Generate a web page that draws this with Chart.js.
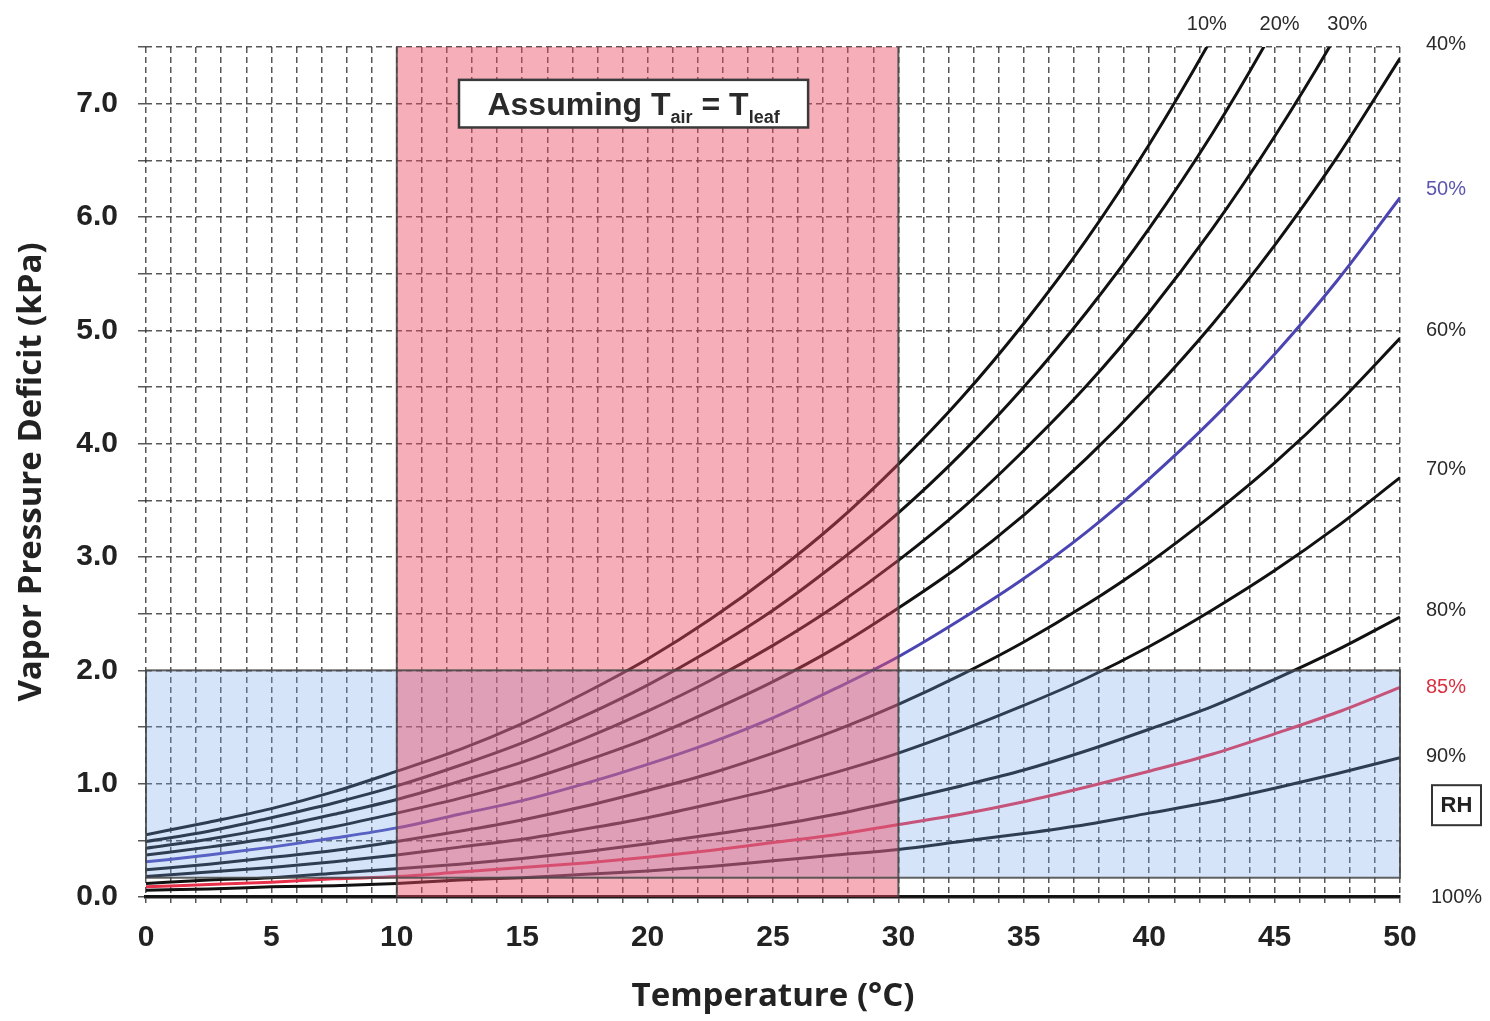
<!DOCTYPE html>
<html><head><meta charset="utf-8">
<script src="https://cdn.jsdelivr.net/npm/chart.js@4.4.1/dist/chart.umd.min.js"></script>
<style>html,body{margin:0;padding:0;background:#fff;}canvas{display:block;}</style>
</head><body>
<canvas id="c" width="1490" height="1021"></canvas>
<script>
// ---- data ----
const temps = [0,2.5,5,7.5,10,12.5,15,17.5,20,22.5,25,27.5,30,32.5,35,37.5,40,42.5,45,47.5,50];
const rh10 = [0.55,0.66,0.78,0.93,1.11,1.30,1.53,1.80,2.10,2.45,2.85,3.30,3.82,4.40,5.06,5.80,6.64,7.58,8.62,9.80,11.10];
const rh20 = [0.49,0.58,0.70,0.83,0.98,1.16,1.36,1.60,1.87,2.18,2.53,2.94,3.39,3.91,4.50,5.16,5.90,6.73,7.67,8.71,9.87];
const rh30 = [0.43,0.51,0.61,0.73,0.86,1.02,1.19,1.40,1.64,1.91,2.22,2.57,2.97,3.42,3.94,4.51,5.16,5.89,6.71,7.62,8.64];
const rh40 = [0.37,0.44,0.52,0.62,0.74,0.87,1.02,1.20,1.40,1.64,1.90,2.20,2.55,2.93,3.37,3.87,4.43,5.05,5.75,6.53,7.40];
const rh50 = [0.31,0.37,0.44,0.52,0.61,0.73,0.85,1.00,1.17,1.36,1.58,1.84,2.12,2.45,2.81,3.22,3.69,4.21,4.79,5.44,6.17];
const rh60 = [0.24,0.29,0.35,0.41,0.49,0.58,0.68,0.80,0.94,1.09,1.27,1.47,1.70,1.96,2.25,2.58,2.95,3.37,3.83,4.35,4.93];
const rh70 = [0.18,0.22,0.26,0.31,0.37,0.44,0.51,0.60,0.70,0.82,0.95,1.10,1.27,1.47,1.69,1.93,2.21,2.53,2.88,3.27,3.70];
const rh80 = [0.12,0.15,0.17,0.21,0.25,0.29,0.34,0.40,0.47,0.55,0.63,0.73,0.85,0.98,1.12,1.29,1.48,1.68,1.92,2.18,2.47];
const rh85 = [0.09,0.11,0.13,0.16,0.18,0.22,0.26,0.30,0.35,0.41,0.48,0.55,0.64,0.73,0.84,0.97,1.11,1.26,1.44,1.63,1.85];
const rh90 = [0.06,0.07,0.09,0.10,0.12,0.15,0.17,0.20,0.23,0.27,0.32,0.37,0.42,0.49,0.56,0.64,0.74,0.84,0.96,1.09,1.23];
const rh100 = [0,0,0,0,0,0,0,0,0,0,0,0,0,0,0,0,0,0,0,0,0];

const seriesNames = ['10%','20%','30%','40%','50%','60%','70%','80%','85%','90%','100%'];
const seriesValues = [rh10,rh20,rh30,rh40,rh50,rh60,rh70,rh80,rh85,rh90,rh100];

const xTickLabels = ['0','5','10','15','20','25','30','35','40','45','50'];
const yTickLabels = ['0.0','1.0','2.0','3.0','4.0','5.0','6.0','7.0'];

// curve labels
const topLabelNames = ['10%','20%','30%'];
const topLabelX = [42.3,45.2,47.9];
const sideLabelNames = ['40%','50%','60%','70%','80%','85%','90%','100%'];
const sideLabelY = [7.52,6.24,5.0,3.77,2.53,1.85,1.24,0];
const rhBoxY = 0.81;

// shaded zones
const tempZone = [10,30];
const vpdZone = [0.17,2.0];
const noteBox = {x0:12.48,x1:26.4,y0:6.79,y1:7.21};

const seriesColor = n => n==='50%' ? '#4a45b2' : (n==='85%' ? '#e8304a' : '#111');
const labelColor = n => n==='50%' ? '#5a55b0' : (n==='85%' ? '#d8303f' : '#2a2a2a');

const datasets = seriesNames.map((n,i)=>({
  label:n,
  data: temps.map((t,j)=>({x:t,y:seriesValues[i][j]})),
  borderColor: seriesColor(n),
  borderWidth: 3,
  pointRadius:0,
  fill:false,
  cubicInterpolationMode:'monotone'
}));

const overlay = {
  id:'overlay',
  afterDatasetsDraw(chart){
    const {ctx, scales:{x,y}} = chart;
    ctx.save();
    const bx0=x.getPixelForValue(0), bx1=x.getPixelForValue(50);
    const by0=y.getPixelForValue(vpdZone[1]), by1=y.getPixelForValue(vpdZone[0]);
    ctx.fillStyle='rgba(120,165,235,0.3)';
    ctx.fillRect(bx0,by0,bx1-bx0,by1-by0);
    const px0=x.getPixelForValue(tempZone[0]), px1=x.getPixelForValue(tempZone[1]);
    const py0=y.getPixelForValue(7.5), py1=y.getPixelForValue(0);
    ctx.fillStyle='rgba(235,75,100,0.45)';
    ctx.fillRect(px0,py0,px1-px0,py1-py0);
    ctx.strokeStyle='rgba(70,70,70,0.85)';
    ctx.lineWidth=2;
    ctx.strokeRect(bx0,by0,bx1-bx0,by1-by0);
    ctx.beginPath();
    ctx.moveTo(px0,py0);ctx.lineTo(px0,py1);
    ctx.moveTo(px1,py0);ctx.lineTo(px1,py1);
    ctx.stroke();
    // note box
    const nx0=x.getPixelForValue(noteBox.x0), nx1=x.getPixelForValue(noteBox.x1);
    const ny0=y.getPixelForValue(noteBox.y1), ny1=y.getPixelForValue(noteBox.y0);
    ctx.fillStyle='#fff';
    ctx.fillRect(nx0,ny0,nx1-nx0,ny1-ny0);
    ctx.strokeStyle='#3a3a3a';ctx.lineWidth=2.5;
    ctx.strokeRect(nx0,ny0,nx1-nx0,ny1-ny0);
    const parts=[['Assuming T',32,0],['air',18,8],[' = T',32,0],['leaf',18,8]];
    let total=0;
    parts.forEach(p=>{ctx.font='bold '+p[1]+'px "Liberation Sans", Arial';p.w=ctx.measureText(p[0]).width;total+=p.w;});
    let cx=(nx0+nx1)/2-total/2; const base=(ny0+ny1)/2+11;
    ctx.fillStyle='#2a2a2a';ctx.textBaseline='alphabetic';ctx.textAlign='left';
    parts.forEach(p=>{ctx.font='bold '+p[1]+'px "Liberation Sans", Arial';ctx.fillText(p[0],cx,base+p[2]);cx+=p.w;});
    ctx.restore();
  },
  afterDraw(chart){
    const {ctx, scales:{x,y}, chartArea} = chart;
    ctx.save();
    ctx.font='20px "Liberation Sans", Arial';
    ctx.textBaseline='middle';
    ctx.textAlign='center';
    topLabelNames.forEach((n,i)=>{ctx.fillStyle=labelColor(n);ctx.fillText(n,x.getPixelForValue(topLabelX[i]),chartArea.top-23);});
    ctx.textAlign='left';
    const lx=chartArea.right+26;
    sideLabelNames.forEach((n,i)=>{ctx.fillStyle=labelColor(n);ctx.fillText(n,lx+(n==='100%'?5:0),y.getPixelForValue(sideLabelY[i]));});
    const ry=y.getPixelForValue(rhBoxY);
    ctx.strokeStyle='#333';ctx.lineWidth=2;
    ctx.strokeRect(lx+6,ry-20,49,40);
    ctx.font='bold 22px "Liberation Sans", Arial';
    ctx.fillStyle='#222';ctx.textAlign='center';
    ctx.fillText('RH',lx+6+24.5,ry+1);
    ctx.restore();
  }
};

const gridColor='rgba(45,45,45,0.8)';
new Chart(document.getElementById('c'),{
  type:'line',
  data:{datasets},
  options:{
    responsive:false,
    animation:false,
    devicePixelRatio:1,
    layout:{padding:{left:0,top:47,right:90,bottom:0}},
    plugins:{legend:{display:false},tooltip:{enabled:false}},
    scales:{
      x:{
        type:'linear',min:0,max:50,
        afterBuildTicks:s=>{const t=[];for(let v=0;v<=50;v++)t.push({value:v});s.ticks=t;},
        afterFit:s=>{s.height=124;},
        ticks:{autoSkip:false,maxRotation:0,padding:17,color:'#222',
          font:{family:'"Liberation Sans", Arial',size:30,weight:'bold'},
          callback:v=>{const s=String(v);return xTickLabels.includes(s)?s:'';}},
        grid:{color:gridColor,lineWidth:1.5,tickLength:6,drawTicks:true,tickColor:'rgba(45,45,45,0.8)'},
        border:{display:true,color:'#1c1c1c',width:3.5,dash:[6,4]},
        title:{display:true,text:'Temperature (°C)',color:'#222',padding:{top:0,bottom:5},
          font:{family:'"Open Sans", Arial',size:33,weight:'bold'}}
      },
      y:{
        type:'linear',min:0,max:7.5,
        afterBuildTicks:s=>{const t=[];for(let v=0;v<=15;v++)t.push({value:v/2});s.ticks=t;},
        afterFit:s=>{s.width=146;},
        ticks:{autoSkip:false,padding:20,color:'#222',
          font:{family:'"Liberation Sans", Arial',size:30,weight:'bold'},
          callback:v=>{const s=Number(v).toFixed(1);return yTickLabels.includes(s)?s:'';}},
        grid:{color:gridColor,lineWidth:1.5,tickLength:8,drawTicks:true,tickColor:'rgba(45,45,45,0.8)'},
        border:{display:false,dash:[6,4]},
        title:{display:true,text:'Vapor Pressure Deficit (kPa)',color:'#222',padding:{top:12,bottom:0},
          font:{family:'"Open Sans", Arial',size:33,weight:'bold'}}
      }
    }
  },
  plugins:[overlay]
});
</script>
</body></html>
